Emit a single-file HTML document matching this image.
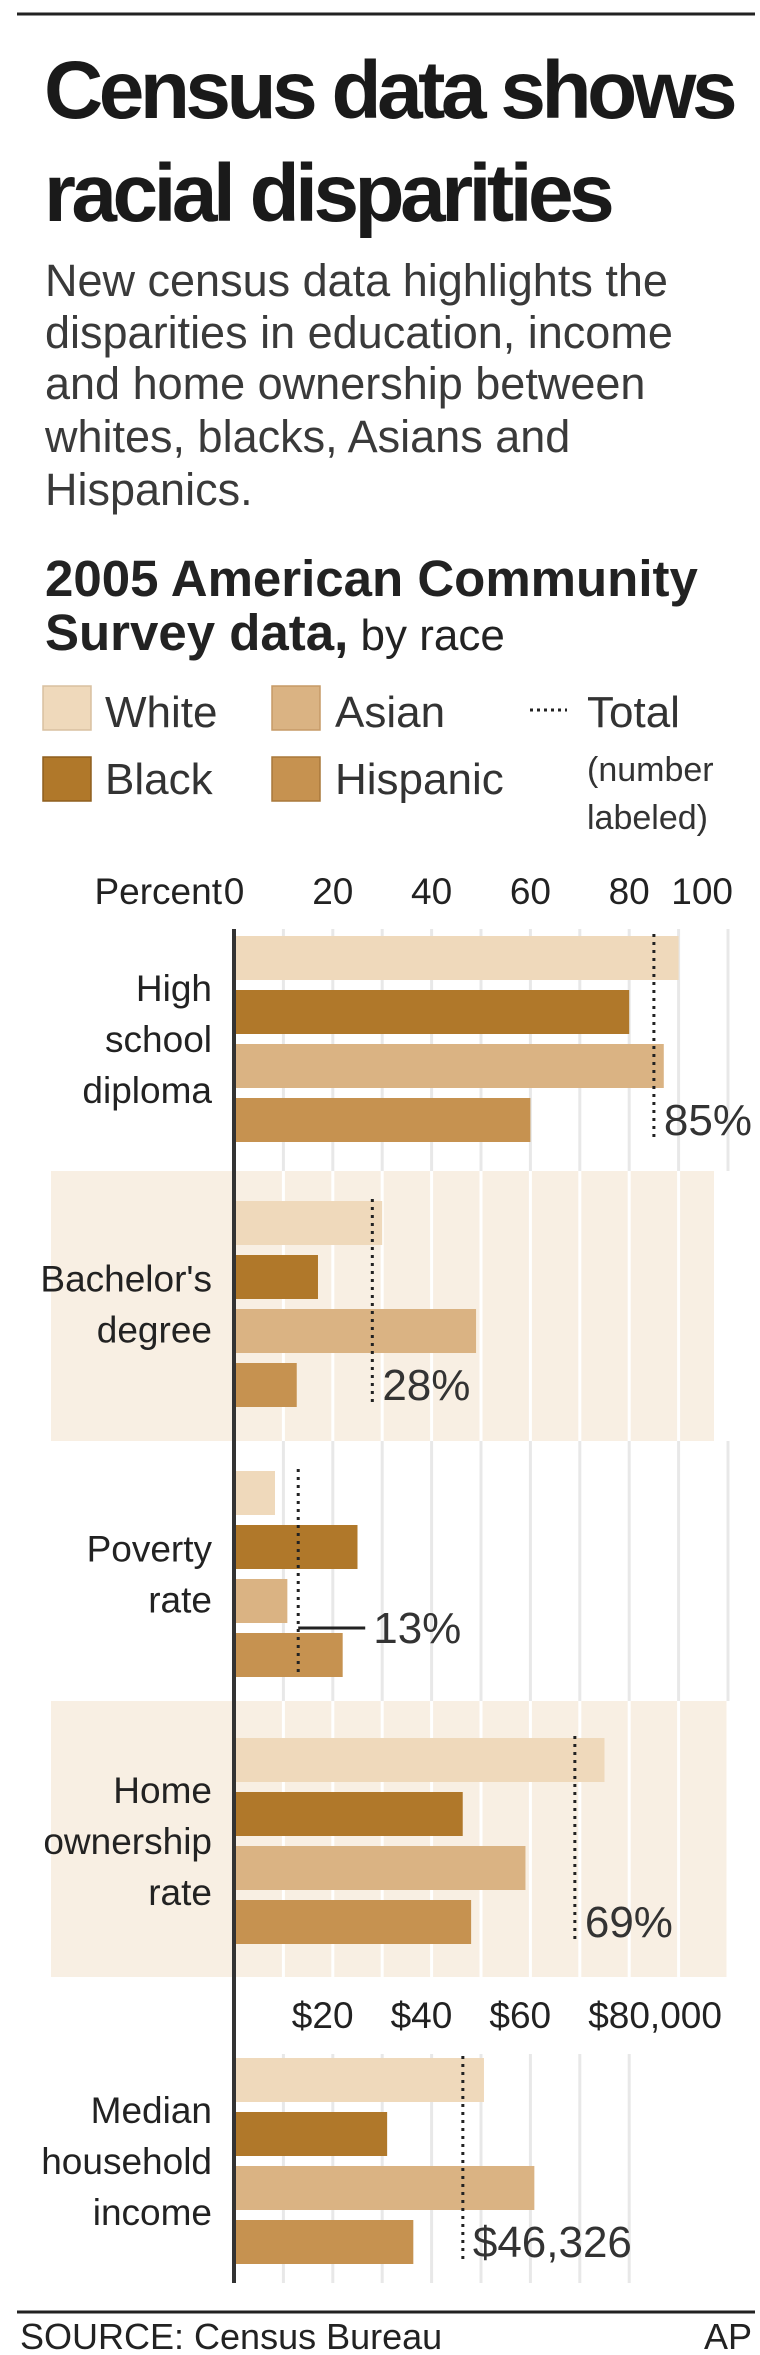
<!DOCTYPE html>
<html><head><meta charset="utf-8"><style>
html,body{margin:0;padding:0;background:#fff;}
svg{display:block;font-family:"Liberation Sans",Arial,sans-serif;}
</style></head><body>
<svg id="chart" width="760" height="2355" viewBox="0 0 760 2355" xmlns="http://www.w3.org/2000/svg">
<line x1="17" y1="14" x2="755" y2="14" stroke="#222" stroke-width="3"/>
<g font-weight="bold" font-size="82" fill="#1a1a1a" letter-spacing="-4.5">
<text x="44" y="118">Census data shows</text>
<text x="44" y="221">racial disparities</text>
</g>
<g font-size="45" fill="#3a3a3a">
<text x="45" y="296">New census data highlights the</text>
<text x="45" y="348">disparities in education, income</text>
<text x="45" y="399">and home ownership between</text>
<text x="45" y="452">whites, blacks, Asians and</text>
<text x="45" y="505">Hispanics.</text>
</g>
<g fill="#222">
<text x="45" y="596" font-size="51" font-weight="bold">2005 American Community</text>
<text x="45" y="650" font-size="51" font-weight="bold">Survey data,<tspan font-weight="normal" font-size="44"> by race</tspan></text>
</g>
<g font-size="44" fill="#333">
<rect x="43" y="686" width="48" height="44" fill="#efd9bb" stroke="#d8c0a0" stroke-width="1.5"/>
<text x="105" y="727">White</text>
<rect x="272" y="686" width="48" height="44" fill="#dab383" stroke="#c69a66" stroke-width="1.5"/>
<text x="335" y="727">Asian</text>
<rect x="43" y="757" width="48" height="44" fill="#b0782a" stroke="#8e5e1e" stroke-width="1.5"/>
<text x="105" y="794">Black</text>
<rect x="272" y="757" width="48" height="44" fill="#c69250" stroke="#a8783a" stroke-width="1.5"/>
<text x="335" y="794">Hispanic</text>
<line x1="530" y1="710" x2="567" y2="710" stroke="#222" stroke-width="3" stroke-dasharray="3,4"/>
<text x="587" y="727">Total</text>
<text x="587" y="781" font-size="34">(number</text>
<text x="587" y="829" font-size="34">labeled)</text>
</g>
<g id="plot"></g>
<line x1="17" y1="2312" x2="755" y2="2312" stroke="#222" stroke-width="3"/>
<text x="20" y="2349" font-size="36" fill="#222">SOURCE: Census Bureau</text>
<text x="752" y="2349" font-size="36" fill="#222" text-anchor="end">AP</text>
</svg>
<script>
const categories = [["High","school","diploma"],["Bachelor's","degree"],["Poverty","rate"],["Home","ownership","rate"],["Median","household","income"]];
const seriesNames = ["White","Black","Asian","Hispanic"];
const whiteVals = [90, 30, 8.3, 75, 50.6];
const blackVals = [80, 17, 25, 46.3, 31];
const asianVals = [87, 49, 10.8, 59, 60.8];
const hispanicVals = [60, 12.7, 22, 48, 36.3];
const totalVals = [85, 28, 13, 69, 46.326];
const totalLabels = ["85%", "28%", "13%", "69%", "$46,326"];
const pctTicks = [0, 20, 40, 60, 80, 100];
const pctTickLabels = ["0", "20", "40", "60", "80", "100"];
const incomeTicks = [20, 40, 60, 80];
const incomeTickLabels = ["$20", "$40", "$60", "$80,000"];

const NS = "http://www.w3.org/2000/svg";
const plot = document.getElementById("plot");
const X0 = 234, PXU = 4.94;
function x(v){ return X0 + v * PXU; }
const groupTop = [936, 1201, 1471, 1738, 2058];
const barH = 44, pitch = 54;
const colors = ["#efd9bb", "#b0782a", "#dab383", "#c69250"];
const allSeries = [whiteVals, blackVals, asianVals, hispanicVals];
function el(tag, attrs){ const e = document.createElementNS(NS, tag); for (const k in attrs) e.setAttribute(k, attrs[k]); plot.appendChild(e); return e; }

// shaded bands
let b1 = el("rect", {x:51, y:1171, width:663, height:270, fill:"#f8efe3"});


let b2 = el("rect", {x:51, y:1701, width:678, height:276, fill:"#f8efe3"});



// gridlines
for (let v = 10; v <= 100; v += 10) {
  const segs = [[929,1171,"#e8e8e8"],[1171,1441,"#ffffff"],[1441,1701,"#e8e8e8"],[1701,1977,"#ffffff"]];
  if (v <= 80) segs.push([2054,2283,"#e8e8e8"]);
  segs.forEach(s => {
    if (v === 100 && s[0] === 1171) return;
    const g = el("line", {x1:x(v), x2:x(v), y1:s[0], y2:s[1], stroke:s[2], "stroke-width":3});
    
    
  });
}

// tick labels
const pt = el("text", {x:222, y:904, "font-size":37, fill:"#222", "text-anchor":"end"});
pt.textContent = "Percent";


pctTicks.forEach((v, i) => {
  const last = i === pctTicks.length - 1;
  const t = el("text", {x: last ? x(v) + 5 : x(v), y:904, "font-size":37, fill:"#222", "text-anchor": last ? "end" : "middle"});
  t.textContent = pctTickLabels[i];
  
  
});
incomeTicks.forEach((v, i) => {
  const t = el("text", {x:x(v) - 41, y:2028, "font-size":37, fill:"#222"});
  t.textContent = incomeTickLabels[i];
  
  
});

// bars, labels, totals
categories.forEach((cat, g) => {
  const top = groupTop[g];
  allSeries.forEach((s, k) => {
    const r = el("rect", {x:X0, y:top + k * pitch, width:x(s[g]) - X0, height:barH, fill:colors[k]});
    
    
  });
  const mid = top + (3 * pitch + barH) / 2;
  const lh = 51;
  cat.forEach((line, j) => {
    const t = el("text", {x:212, y: mid - (cat.length - 1) * lh / 2 + j * lh + 13, "font-size":37, fill:"#222", "text-anchor":"end"});
    t.textContent = line;
    
    
  });
  const tx = x(totalVals[g]);
  const tl = el("line", {x1:tx, x2:tx, y1:top - 2, y2:top + 3 * pitch + barH, stroke:"#222", "stroke-width":3, "stroke-dasharray":"3,5"});
  
  
  let lx = tx + 10, ly = top + 3 * pitch + barH / 2 + 15;
  if (g === 2) {
    const cy = top + 3 * pitch - 5;
    const c = el("line", {x1:tx, x2:tx + 67, y1:cy, y2:cy, stroke:"#222", "stroke-width":3});
    
    
    lx = tx + 75; ly = cy + 15;
  }
  const lab = el("text", {x:lx, y:ly, "font-size":44, fill:"#333"});
  lab.textContent = totalLabels[g];
  
  
});

// axis line
const ax = el("line", {x1:X0, x2:X0, y1:929, y2:2283, stroke:"#333", "stroke-width":4});


</script>
</body></html>
